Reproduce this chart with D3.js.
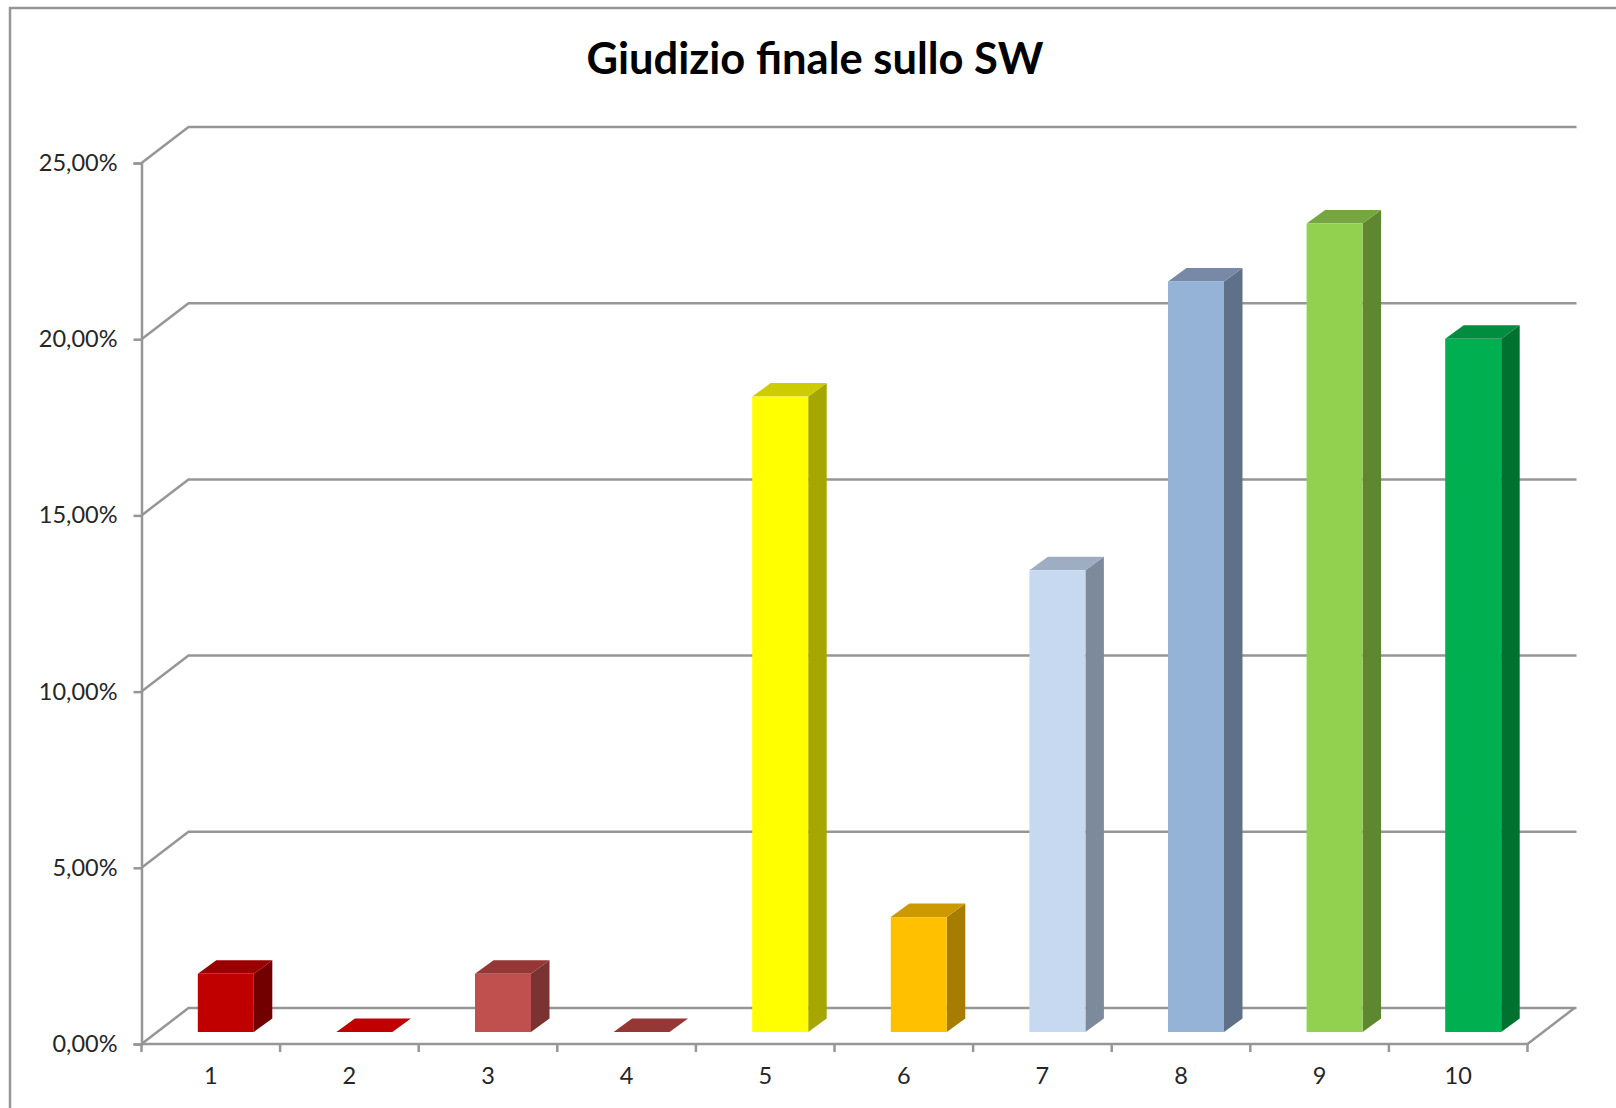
<!DOCTYPE html><html><head><meta charset="UTF-8"><script src="https://d3js.org/d3.v7.min.js"></script><style>
    html, body { margin: 0; padding: 0; background: #fff; }
    svg { display: block; font-family: Lato, "Open Sans", sans-serif; }
    .title { font-size: 43.5px; font-weight: 700; fill: #000; text-anchor: middle; }
    .axis text { font-size: 23.5px; fill: #262626; font-family: Lato, sans-serif; }
    .axis path, .axis line, .wall { stroke: #969696; stroke-width: 2.5px; fill: none; }
</style></head><body><div id="chart"></div><script>
    const categories = ['1', '2', '3', '4', '5', '6', '7', '8', '9', '10'];
    const values = [1.65, 0, 1.65, 0, 18.03, 3.26, 13.1, 21.3, 22.94, 19.67];
    const frontColors = ['#c00000', '#c00000', '#c0504d', '#953735', '#ffff00', '#ffc000', '#c6d9f1', '#95b3d7', '#92d050', '#00b050'];
    const topColors = ['#9a0000', '#c00000', '#953735', '#953735', '#cccc00', '#cc9a00', '#9eadc1', '#7789a6', '#75a640', '#008d40'];
    const sideColors = ['#730000', '#730000', '#7b3331', '#6a2725', '#a6a600', '#a67d00', '#7d8a9c', '#5e7189', '#5f8731', '#00712f'];
    const yTicks = [0, 5, 10, 15, 20, 25];

    const fullWidth = 1616, fullHeight = 1108;
    const plotLeft = 141.5, plotRight = 1527.5, plotTop = 163, plotBottom = 1044;
    const wallX = 47, wallY = 36;       // depth of the 3D box
    const barX = 15, barY = 12;         // bars stand this far back on the floor
    const depthX = 18.5, depthY = 13.5; // bar depth

    const svg = d3.select('#chart').append('svg')
        .attr('width', fullWidth)
        .attr('height', fullHeight);

    const x = d3.scaleBand().domain(categories).range([plotLeft, plotRight]);
    const y = d3.scaleLinear().domain([0, 25]).range([plotBottom, plotTop]);
    const barW = 56;

    // outer frame, only top and left are visible in the picture
    svg.append('path').attr('class', 'wall')
        .attr('d', `M10,${fullHeight}V8H${fullWidth}`);

    svg.append('text').attr('class', 'title')
        .attr('x', 815).attr('y', 74)
        .text('Giudizio finale sullo SW');

    // gridlines on the back and side wall
    svg.append('g').selectAll('path')
        .data(yTicks)
        .enter().append('path')
        .attr('class', 'wall')
        .attr('d', d => `M${plotLeft},${y(d)}L${plotLeft + wallX},${y(d) - wallY}H${plotRight + wallX + 2}`);

    // floor edge on the right
    svg.append('path').attr('class', 'wall')
        .attr('d', `M${plotRight},${plotBottom}L${plotRight + wallX},${plotBottom - wallY}`);

    const bars = svg.append('g').selectAll('g')
        .data(categories)
        .enter().append('g');

    const bx = d => x(d) + x.bandwidth() / 2 + barX - barW / 2;
    const by = (d, i) => y(values[i]) - barY;
    const by0 = y(0) - barY;

    bars.append('path')
        .attr('fill', (d, i) => sideColors[i])
        .attr('d', (d, i) => `M${bx(d) + barW},${by(d, i)}l${depthX},${-depthY}V${by0 - depthY}l${-depthX},${depthY}Z`);
    bars.append('path')
        .attr('fill', (d, i) => topColors[i])
        .attr('d', (d, i) => `M${bx(d)},${by(d, i)}l${depthX},${-depthY}h${barW}l${-depthX},${depthY}Z`);
    bars.append('rect')
        .attr('x', d => bx(d))
        .attr('y', (d, i) => by(d, i))
        .attr('width', barW)
        .attr('height', (d, i) => by0 - by(d, i))
        .attr('fill', (d, i) => frontColors[i]);

    svg.append('g').attr('class', 'axis')
        .attr('transform', `translate(${plotLeft},0)`)
        .call(d3.axisLeft(y).tickValues(yTicks).tickSize(8).tickPadding(16)
            .tickFormat(d => d3.format('.2f')(d).replace('.', ',') + '%'));

    const xAxis = svg.append('g').attr('class', 'axis')
        .attr('transform', `translate(0,${plotBottom})`)
        .call(d3.axisBottom(x).tickSize(0).tickPadding(23));
    xAxis.select('.domain').remove();
    xAxis.append('path').attr('d', `M${plotLeft},0H${plotRight}`);
    xAxis.selectAll('.sep')
        .data(categories)
        .enter().append('line')
        .attr('class', 'sep')
        .attr('x1', d => x(d) + x.bandwidth())
        .attr('x2', d => x(d) + x.bandwidth())
        .attr('y1', 0).attr('y2', 8);
    xAxis.append('line').attr('x1', plotLeft).attr('x2', plotLeft).attr('y1', 0).attr('y2', 8);
</script></body></html>
